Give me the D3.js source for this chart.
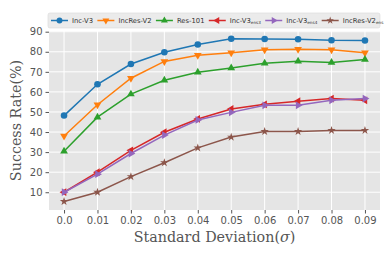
<!DOCTYPE html>
<html>
<head>
<meta charset="utf-8">
<script src="https://cdn.jsdelivr.net/npm/d3@7"></script>
<style>
body { margin: 0; background: #fff; }
</style>
</head>
<body>
<script>
const sigmas = [0.00, 0.01, 0.02, 0.03, 0.04, 0.05, 0.06, 0.07, 0.08, 0.09]
const incV3 = [48.2, 63.8, 73.9, 79.8, 83.6, 86.5, 86.4, 86.2, 85.7, 85.6]
const incResV2 = [38.0, 53.6, 66.8, 75.2, 78.3, 79.5, 81.0, 81.3, 81.0, 79.5]
const res101 = [30.4, 47.4, 58.9, 65.8, 69.8, 71.9, 74.3, 75.3, 74.7, 76.2]
const incV3ens3 = [10.0, 20.0, 30.9, 39.9, 46.5, 51.5, 53.8, 55.4, 56.7, 55.8]
const incV3ens4 = [10.0, 19.0, 29.3, 38.5, 46.0, 49.8, 53.3, 53.3, 55.8, 56.7]
const incResV2ens = [5.4, 10.0, 17.8, 24.7, 32.1, 37.5, 40.3, 40.3, 40.8, 40.8]

const seriesNames = ['Inc-V3', 'IncRes-V2', 'Res-101', 'Inc-V3', 'Inc-V3', 'IncRes-V2']
const seriesSubs = ['', '', '', 'ens3', 'ens4', 'ens']
const seriesValues = [incV3, incResV2, res101, incV3ens3, incV3ens4, incResV2ens]
const colors = ['#1f77b4', '#ff7f0e', '#2ca02c', '#d62728', '#9467bd', '#8c564b']

const xTicks = [0.00, 0.01, 0.02, 0.03, 0.04, 0.05, 0.06, 0.07, 0.08, 0.09]
const yTicks = [10, 20, 30, 40, 50, 60, 70, 80, 90]

// marker shapes: symbol + rotation
const markers = [
    { type: d3.symbolCircle, size: 34, rot: 0 },
    { type: d3.symbolTriangle, size: 26, rot: 180 },
    { type: d3.symbolTriangle, size: 26, rot: 0 },
    { type: d3.symbolTriangle, size: 26, rot: -90 },
    { type: d3.symbolTriangle, size: 26, rot: 90 },
    { type: d3.symbolStar, size: 22, rot: 0 }
]

const W = 390, H = 260
const plot = { left: 49, right: 380, top: 31, bottom: 210 }

const svg = d3.select('body').append('svg')
    .attr('width', W)
    .attr('height', H)

const x = d3.scaleLinear().domain([-0.0045, 0.0945]).range([plot.left, plot.right])
const y = d3.scaleLinear().domain([1.15, 90.35]).range([plot.bottom, plot.top])

svg.append('rect')
    .attr('x', plot.left).attr('y', plot.top)
    .attr('width', plot.right - plot.left)
    .attr('height', plot.bottom - plot.top)
    .attr('fill', '#e5e5e5')

// grid
svg.append('g').selectAll('line').data(xTicks).enter().append('line')
    .attr('x1', d => x(d)).attr('x2', d => x(d))
    .attr('y1', plot.top).attr('y2', plot.bottom)
    .attr('stroke', '#fff').attr('stroke-width', 1)
svg.append('g').selectAll('line').data(yTicks).enter().append('line')
    .attr('y1', d => y(d)).attr('y2', d => y(d))
    .attr('x1', plot.left).attr('x2', plot.right)
    .attr('stroke', '#fff').attr('stroke-width', 1)

// axes
const xAxis = svg.append('g')
    .attr('transform', 'translate(0,' + plot.bottom + ')')
    .call(d3.axisBottom(x).tickValues(xTicks).tickFormat(d => d === 0 ? '0.0' : d3.format('.2f')(d)).tickSize(3.5).tickPadding(3))
const yAxis = svg.append('g')
    .attr('transform', 'translate(' + plot.left + ',0)')
    .call(d3.axisLeft(y).tickValues(yTicks).tickSize(3.5).tickPadding(3))

;[xAxis, yAxis].forEach(function(ax) {
    ax.select('.domain').remove()
    ax.selectAll('line').attr('stroke', '#555')
    ax.selectAll('text')
        .attr('fill', '#555')
        .style('font-family', 'DejaVu Sans')
        .style('font-size', '10px')
})

// lines + markers
const line = d3.line()
    .x((d, i) => x(sigmas[i]))
    .y(d => y(d))

seriesValues.forEach(function(vals, k) {
    svg.append('path')
        .datum(vals)
        .attr('d', line)
        .attr('fill', 'none')
        .attr('stroke', colors[k])
        .attr('stroke-width', 1.5)

    const m = markers[k]
    svg.append('g').selectAll('path').data(vals).enter().append('path')
        .attr('d', d3.symbol().type(m.type).size(m.size))
        .attr('transform', (d, i) => 'translate(' + x(sigmas[i]) + ',' + y(d) + ') rotate(' + m.rot + ')')
        .attr('fill', colors[k])
})

// axis labels
const xl = svg.append('text')
    .attr('x', (plot.left + plot.right) / 2)
    .attr('y', 242)
    .attr('text-anchor', 'middle')
    .style('font-family', 'DejaVu Serif')
    .style('font-size', '14.3px')
    .attr('fill', '#555')
xl.append('tspan').text('Standard Deviation(')
xl.append('tspan').style('font-style', 'italic').text('σ')
xl.append('tspan').text(')')

svg.append('text')
    .attr('transform', 'translate(21,' + (plot.top + plot.bottom) / 2 + ') rotate(-90)')
    .attr('text-anchor', 'middle')
    .style('font-family', 'DejaVu Serif')
    .style('font-size', '14.3px')
    .attr('fill', '#555')
    .text('Success Rate(%)')

// legend
const legend = svg.append('g')
legend.append('rect')
    .attr('x', 48).attr('y', 13)
    .attr('width', 332).attr('height', 15)
    .attr('rx', 2)
    .attr('fill', '#ebebeb')
    .attr('stroke', '#d8d8d8')
    .attr('stroke-width', 0.6)

let cx = 51
const ly = 20.5
seriesNames.forEach(function(name, k) {
    legend.append('line')
        .attr('x1', cx).attr('x2', cx + 17)
        .attr('y1', ly).attr('y2', ly)
        .attr('stroke', colors[k]).attr('stroke-width', 1.5)
    const m = markers[k]
    legend.append('path')
        .attr('d', d3.symbol().type(m.type).size(m.size * 0.8))
        .attr('transform', 'translate(' + (cx + 8.5) + ',' + ly + ') rotate(' + m.rot + ')')
        .attr('fill', colors[k])
    const t = legend.append('text')
        .attr('x', cx + 21).attr('y', ly + 2.4)
        .style('font-family', 'DejaVu Sans')
        .style('font-size', '6.8px')
        .attr('fill', '#333')
        .text(name)
    if (seriesSubs[k]) {
        t.append('tspan')
            .attr('dy', 1.5)
            .style('font-size', '4.2px')
            .text(seriesSubs[k])
    }
    cx += 21 + t.node().getComputedTextLength() + 4.3
})
</script>
</body>
</html>
